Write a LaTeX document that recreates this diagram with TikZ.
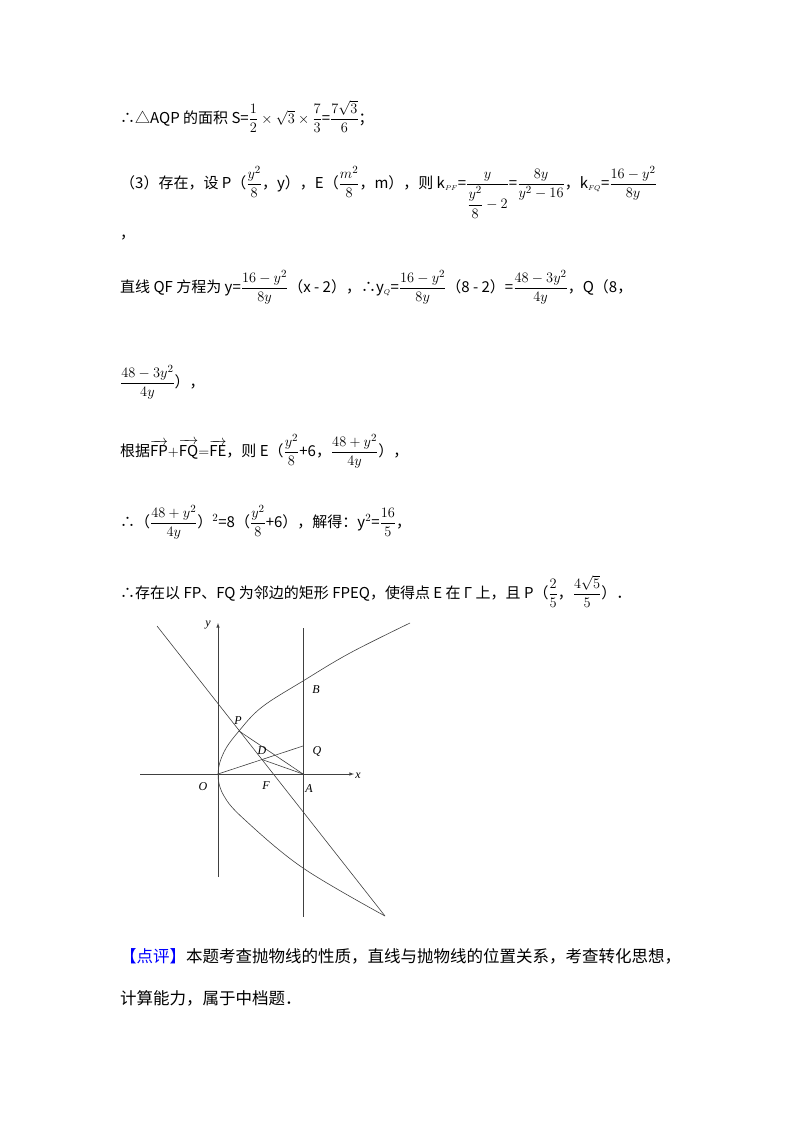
\documentclass[tikz,border=0pt]{standalone}
\usepackage{amsmath}
\usepackage{fontspec}
\setmainfont{Noto Sans CJK SC}
\newfontfamily\labfont{Liberation Serif}
\begin{document}
\begin{tikzpicture}[x=1pt,y=-1pt,
  txt/.style={anchor=base west,inner sep=0pt,font=\fontsize{15}{18}\selectfont},
  big/.style={anchor=base west,inner sep=0pt,font=\fontsize{16.5}{20}\selectfont},
  lab/.style={font=\fontsize{12}{13}\selectfont\labfont\itshape,inner sep=0pt},
  ln/.style={line width=0.6pt,draw=black!75}]
\useasboundingbox (0,0) rectangle (800,1132);
\node[txt] (l1) at (120,123) {∴△AQP 的面积 S=$\dfrac12\times\sqrt3\times\dfrac73$=$\dfrac{7\sqrt3}{6}$；};
\node[txt] (l2) at (120,188) {（3）存在，设 P（$\dfrac{y^2}{8}$，y），E（$\dfrac{m^2}{8}$，m），则 k$_{\scriptscriptstyle PF}$=$\dfrac{y}{\dfrac{y^2}{8}-2}$=$\dfrac{8y}{y^2-16}$，k$_{\scriptscriptstyle FQ}$=$\dfrac{16-y^2}{8y}$};
\node[txt] (l2b) at (120,238) {，};
\node[txt] (l3) at (120,292) {直线 QF 方程为 y=$\dfrac{16-y^2}{8y}$（x - 2），∴y$_{\scriptscriptstyle Q}$=$\dfrac{16-y^2}{8y}$（8 - 2）=$\dfrac{48-3y^2}{4y}$，Q（8，};
\node[txt] (l4) at (120,387) {$\dfrac{48-3y^2}{4y}$），};
\node[txt] (l5) at (120,456) {根据$\overrightarrow{\mathrm{FP}}{+}\overrightarrow{\mathrm{FQ}}{=}\overrightarrow{\mathrm{FE}}$，则 E（$\dfrac{y^2}{8}$+6，$\dfrac{48+y^2}{4y}$），};
\node[txt] (l6) at (120,527) {∴（$\dfrac{48+y^2}{4y}$）$^2$=8（$\dfrac{y^2}{8}$+6），解得：y$^2$=$\dfrac{16}{5}$，};
\node[txt] (l7) at (120,598) {∴存在以 FP、FQ 为邻边的矩形 FPEQ，使得点 E 在 Γ 上，且 P（$\dfrac25$，$\dfrac{4\sqrt5}{5}$）．};
\node[big] (l8) at (120,962) {\textcolor{blue}{【点评】}本题考查抛物线的性质，直线与抛物线的位置关系，考查转化思想，};
\node[big] (l9) at (120,1004) {计算能力，属于中档题．};
% figure
\coordinate (O) at (218,774);
\coordinate (A) at (303,774);
\coordinate (Q) at (303,746);
\coordinate (P) at (239,731);
\coordinate (D) at (262,759.5);
\coordinate (T1) at (157,626);
\coordinate (T2) at (385,916);
\coordinate (xs) at (140,774);
\coordinate (xe) at (354,774);
\coordinate (ys) at (218,877);
\coordinate (ye) at (218,623);
\coordinate (vs) at (303,628);
\coordinate (ve) at (303,917);
\draw[ln,-latex] (xs) -- (xe);
\draw[ln,-latex] (ys) -- (ye);
\draw[ln] (vs) -- (ve);
\draw[ln] plot[smooth,tension=0.6] coordinates {(410,623) (350,653) (303,681) (262,707) (239,731) (224,752) (218,774) (224,796) (245,820) (303,868) (385,916)};
\draw[ln] (T1) -- (T2);
\draw[ln] (P) -- (A);
\draw[ln] (O) -- (Q);
\draw[ln] (D) -- (A);
\node[lab] (ly) at (208,625) {y};
\node[lab] (lx) at (358,776) {x};
\node[lab] (lO) at (203,787) {O};
\node[lab] (lF) at (266,786) {F};
\node[lab] (lA) at (309,789) {A};
\node[lab] (lB) at (316,690) {B};
\node[lab] (lP) at (238,721) {P};
\node[lab] (lD) at (262,751) {D};
\node[lab] (lQ) at (317,751) {Q};
\end{tikzpicture}
\end{document}
